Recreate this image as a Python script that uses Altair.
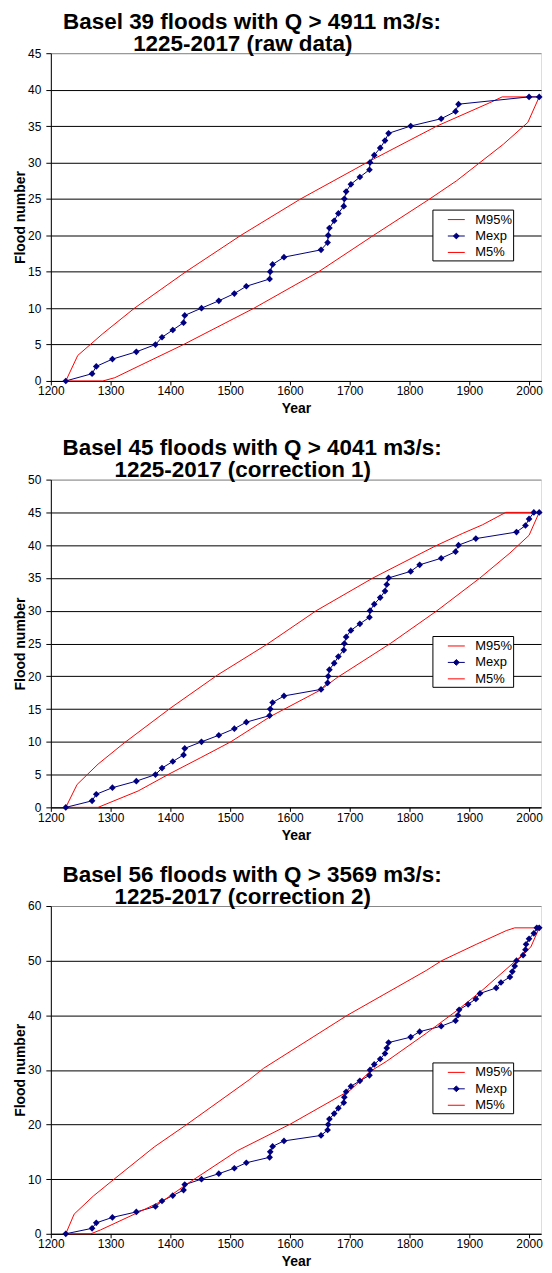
import altair as alt
import pandas as pd

FONT = "Liberation Sans"
NB = "\u00a0"
ZW = "\u200b"

# ---------------- data ----------------
titles = [
    ["Basel 39 floods with Q > 4911 m3/s:", "1225-2017 (raw data)" + NB * 3 + ZW],
    ["Basel 45 floods with Q > 4041 m3/s:", "1225-2017 (correction 1)" + NB * 3 + ZW],
    ["Basel 56 floods with Q > 3569 m3/s:", "1225-2017 (correction 2)" + NB * 3 + ZW],
]
y_max = [45, 50, 60]
y_ticks = [list(range(0, 46, 5)), list(range(0, 51, 5)), list(range(0, 61, 10))]
x_ticks = list(range(1200, 2001, 100))

# Chart 1 (raw data)
mexp1_year = [1225, 1269, 1276, 1303, 1343, 1375, 1386, 1404, 1422, 1424, 1452, 1481, 1507, 1527,
              1566, 1567, 1571, 1590, 1652, 1663, 1664, 1666, 1674, 1681, 1690, 1691, 1694, 1702,
              1717, 1733, 1734, 1741, 1751, 1759, 1765, 1802, 1853, 1877, 1882, 2000, 2017]
mexp1_n = list(range(0, 40)) + [39]
m95_1_year = [1225, 1245, 1287, 1340, 1426, 1518, 1618, 1729, 1846, 1937, 1955, 2017]
m95_1_n = [0, 3.5, 6.5, 10, 15, 20, 25, 30, 35, 38.3, 39, 39]
m5_1_year = [1225, 1287, 1307, 1346, 1422, 1540, 1648, 1740, 1834, 1879, 1957, 1998, 2017]
m5_1_n = [0, 0, 0.45, 2, 5, 10, 15, 20, 25, 27.5, 32.5, 35.5, 39]

# Chart 2 (correction 1)
mexp2_year = [1225, 1269, 1276, 1303, 1343, 1375, 1386, 1404, 1422, 1424, 1452, 1481, 1507, 1527,
              1566, 1567, 1571, 1590, 1652, 1663, 1664, 1666, 1674, 1681, 1690, 1691, 1694, 1702,
              1717, 1733, 1734, 1741, 1751, 1759, 1762, 1765, 1802, 1817, 1853, 1877, 1882, 1911,
              1979, 1994, 2000, 2008, 2017]
mexp2_n = list(range(0, 46)) + [45]
m95_2_year = [1225, 1244, 1279, 1323, 1401, 1479, 1562, 1644, 1739, 1844, 1889, 1922, 1961, 2017]
m95_2_n = [0, 3.5, 6.6, 9.85, 15.2, 20.2, 24.9, 30, 35, 39.9, 41.8, 43.1, 45, 45]
m5_2_year = [1225, 1279, 1299, 1346, 1396, 1451, 1501, 1568, 1651, 1679, 1768, 1846, 1918, 1968, 2000, 2017]
m5_2_n = [0, 0, 0.75, 2.5, 5, 7.6, 10, 13.9, 17.9, 19.8, 25, 30, 35, 38.8, 41.5, 45]

# Chart 3 (correction 2)
mexp3_year = [1225, 1269, 1276, 1303, 1343, 1375, 1386, 1404, 1422, 1424, 1452, 1481, 1507, 1527,
              1566, 1567, 1571, 1590, 1652, 1663, 1664, 1666, 1674, 1681, 1690, 1691, 1694, 1702,
              1717, 1733, 1734, 1741, 1751, 1759, 1762, 1765, 1802, 1817, 1853, 1877, 1881, 1883,
              1898, 1911, 1918, 1945, 1953, 1968, 1972, 1976, 1979, 1990, 1994, 1995, 2000, 2008,
              2013, 2017]
mexp3_n = list(range(0, 57)) + [56]
m95_3_year = [1225, 1239, 1271, 1307, 1373, 1426, 1532, 1556, 1696, 1828, 1854, 1912, 1962, 1976, 2017]
m95_3_n = [0, 3.6, 6.9, 10.1, 15.9, 19.9, 28.2, 30.3, 40, 48.2, 50, 53, 55.5, 56, 56]
m5_3_year = [1225, 1267, 1283, 1340, 1390, 1429, 1512, 1601, 1701, 1734, 1762, 1828, 1881, 1923, 1978, 2003, 2017]
m5_3_n = [0, 0, 0.7, 3.6, 6.2, 9.2, 15.2, 20.1, 26.3, 29.7, 31.6, 36.7, 41, 44.7, 50, 52.5, 56]

series_sets = [
    (m95_1_year, m95_1_n, mexp1_year, mexp1_n, m5_1_year, m5_1_n),
    (m95_2_year, m95_2_n, mexp2_year, mexp2_n, m5_2_year, m5_2_n),
    (m95_3_year, m95_3_n, mexp3_year, mexp3_n, m5_3_year, m5_3_n),
]

series_names = ["M95%", "Mexp", "M5%"]
series_colors = ["#FF0000", "#000080", "#FF0000"]

DIAMOND_PATH = "M-1,0H1M-0.34,0L0,-0.34L0.34,0L0,0.34Z"
LINE_PATH = "M-1,0H1"


def make_df(s):
    rows = []
    for name, yrs, ns in zip(series_names, [s[0], s[2], s[4]], [s[1], s[3], s[5]]):
        for i, (yr, n) in enumerate(zip(yrs, ns)):
            rows.append({"year": yr, "n": n, "series": name, "idx": i})
    return pd.DataFrame(rows)


def make_chart(k):
    df = make_df(series_sets[k])
    ymax = y_max[k]
    xenc = alt.X("year:Q", scale=alt.Scale(domain=[1200, 2020], nice=False, zero=False),
                 axis=alt.Axis(values=x_ticks, format="d", title="Year", grid=False,
                               labelFontSize=12, labelFont=FONT, labelColor="black",
                               titleFont=FONT, titleFontSize=14, titleFontWeight="bold",
                               titleColor="black", domainColor="black", tickColor="black",
                               tickSize=4, labelPadding=1, titlePadding=5, labelFlush=False,
                               labelOverlap=False))
    yenc = alt.Y("n:Q", scale=alt.Scale(domain=[0, ymax], nice=False),
                 axis=alt.Axis(values=y_ticks[k], title="Flood number", grid=True,
                               gridColor={"condition": {"test": f"datum.value === {ymax}", "value": "#888888"},
                                          "value": "black"},
                               gridWidth=1, labelFontSize=12, labelFont=FONT, labelColor="black",
                               titleFont=FONT, titleFontSize=14, titleFontWeight="bold",
                               titleColor="black", domainColor="black", tickColor="black",
                               tickSize=5, labelPadding=5, titlePadding=0, labelOverlap=False))
    legend = alt.Legend(
        title=None,
        orient="none", legendX=383, legendY=157,
        strokeColor="black", fillColor="white", padding=1,
        labelFont=FONT, labelFontSize=13, labelColor="black", labelOffset=10,
        symbolSize=289, symbolStrokeWidth=1, symbolOffset=14, rowPadding=0.5,
        symbolType={"expr": f"datum.value === 'Mexp' ? '{DIAMOND_PATH}' : '{LINE_PATH}'"},
        symbolFillColor={"expr": "datum.value === 'Mexp' ? '#000080' : 'transparent'"},
    )
    color = alt.Color("series:N", scale=alt.Scale(domain=series_names, range=series_colors),
                      legend=legend)
    lines = alt.Chart(df).mark_line(strokeWidth=1).encode(
        x=xenc, y=yenc, color=color, order="idx:Q")
    pts = alt.Chart(df).transform_filter(alt.datum.series == "Mexp").mark_point(
        shape="diamond", filled=True, size=45, color="#000080", opacity=1).encode(
        x=xenc, y=yenc)
    return alt.layer(lines, pts).properties(
        width=492, height=329,
        title=alt.TitleParams(text=titles[k], font=FONT, fontSize=22.5, fontWeight="bold",
                              color="black", anchor="middle", frame="group", dx=-44,
                              lineHeight=22, offset=-8),
    )


chart = alt.vconcat(make_chart(0), make_chart(1), make_chart(2), spacing=20).resolve_scale(
    color="independent"
).properties(
    padding={"left": 5, "top": 0, "right": 0, "bottom": 0}
).configure_view(stroke="#888888", strokeWidth=1).configure(background="white")

chart.save("out.html", embed_options={"renderer": "svg", "actions": False})
